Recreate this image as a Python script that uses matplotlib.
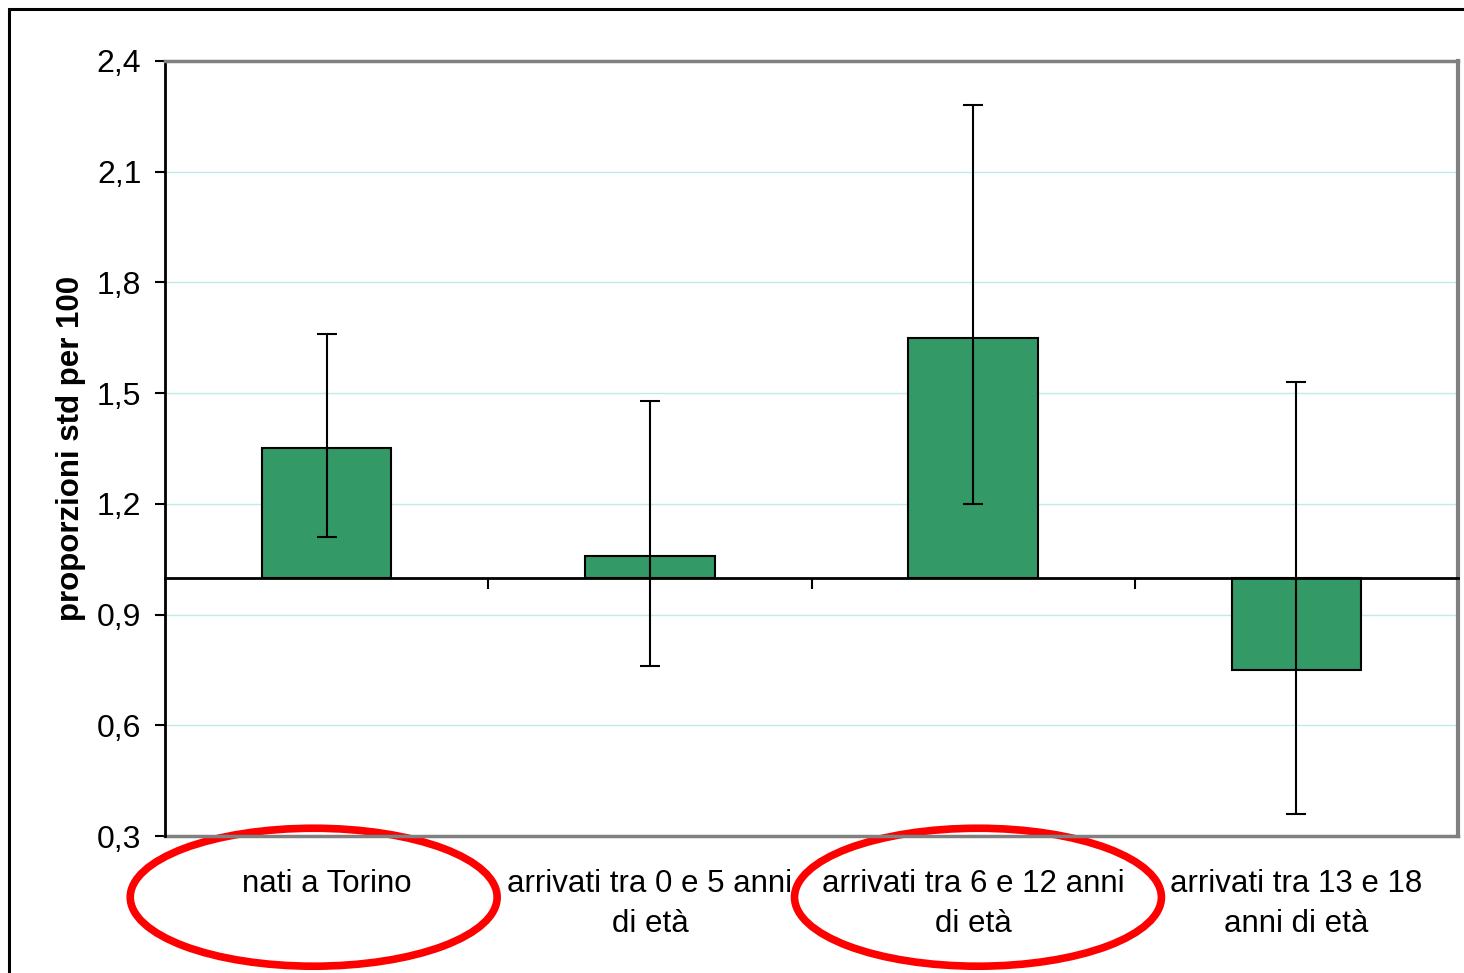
import matplotlib.pyplot as plt
import numpy as np
from matplotlib.patches import Ellipse, Rectangle
import matplotlib.transforms as mtransforms

plt.rcParams['font.family'] = ['Liberation Sans', 'DejaVu Sans']

categories = ['nati a Torino',
              'arrivati tra 0 e 5 anni\ndi età',
              'arrivati tra 6 e 12 anni\ndi età',
              'arrivati tra 13 e 18\nanni di età']
values = [1.35, 1.06, 1.65, 0.75]
ci_low = [1.11, 0.76, 1.20, 0.36]
ci_high = [1.66, 1.48, 2.28, 1.53]
yticks = [0.3, 0.6, 0.9, 1.2, 1.5, 1.8, 2.1, 2.4]
circled = [0, 2]
circle_shift = [-0.04, 0.015]

baseline = 1.0

def main():
    fig = plt.figure(figsize=(14.64, 9.73), dpi=100)
    ax = fig.add_axes([165 / 1464, 137 / 973, 1293 / 1464, 775 / 973])

    x = np.arange(len(categories))
    vals = np.array(values)
    ax.bar(x, vals - baseline, bottom=baseline, width=0.4, color='#339966',
           edgecolor='black', linewidth=1.5, zorder=3)
    err = [vals - np.array(ci_low), np.array(ci_high) - vals]
    ax.errorbar(x, vals, yerr=err, fmt='none', ecolor='black', elinewidth=1.5,
                capsize=7, capthick=1.5, zorder=4)

    ax.set_xlim(-0.5, len(categories) - 0.5)
    ax.set_ylim(0.3, 2.4)
    ax.set_yticks(yticks)
    ax.set_yticklabels([f'{v:.1f}'.replace('.', ',') for v in yticks], fontsize=23)
    ax.tick_params(axis='y', direction='out', length=7, width=1.5, pad=10)
    ax.yaxis.grid(True, color='#bfeaea', linewidth=1)
    ax.set_axisbelow(True)

    # horizontal axis crossing at 1
    ax.spines['bottom'].set_position(('data', baseline))
    ax.spines['bottom'].set_linewidth(2)
    ax.spines['bottom'].set_zorder(5)
    ax.set_xticks(np.arange(len(categories) - 1) + 0.5)
    ax.set_xticklabels([])
    ax.tick_params(axis='x', direction='out', length=8, width=1.5)
    ax.axhline(0.3, color='#808080', linewidth=2.5, clip_on=False)
    ax.spines['top'].set_color('#808080')
    ax.spines['top'].set_linewidth(2.5)
    ax.spines['right'].set_color('#808080')
    ax.spines['right'].set_linewidth(3)
    ax.spines['left'].set_linewidth(2)

    ax.set_ylabel('proporzioni std per 100', fontsize=22.5, fontweight='bold', labelpad=8)

    trans = mtransforms.blended_transform_factory(ax.transData, ax.transAxes)
    for i, lab in enumerate(categories):
        ax.text(i, -0.043, lab, transform=trans, ha='center', va='top',
                fontsize=22.5, linespacing=1.42)
    for i, s in zip(circled, circle_shift):
        ax.add_patch(Ellipse((i + s, -0.079), 1.135, 0.178, transform=trans,
                             fill=False, edgecolor='#ff0000', linewidth=5.5, clip_on=False))

    fig.patches.append(Rectangle((9 / 1464, -0.1), 1.1, 0.1 + 1 - 9 / 973,
                                 transform=fig.transFigure, fill=False,
                                 edgecolor='black', linewidth=2.2))
    fig.savefig('out.png', dpi=100)

main()
